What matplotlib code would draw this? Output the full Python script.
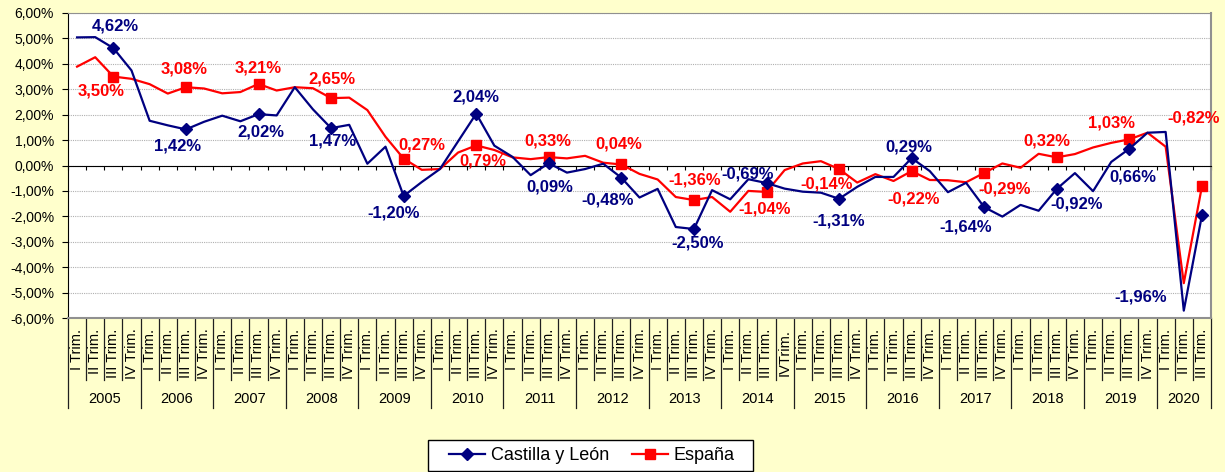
import matplotlib
matplotlib.use("Agg")
from matplotlib import pyplot as plt
from matplotlib import transforms
from matplotlib.patches import Rectangle
from matplotlib.ticker import FuncFormatter, MultipleLocator

plt.rcParams['font.family'] = ['Liberation Sans', 'DejaVu Sans']

years = [str(y) for y in range(2005, 2021)]
quarters = ["I Trim.", "II Trim.", "III Trim.", "IV Trim."]

# tasa de variacion interanual (%) por trimestre, 2005 I - 2020 III
castilla = [5.04, 5.05, 4.62, 3.74, 1.76, 1.58, 1.42, 1.72, 1.96, 1.74, 2.02, 1.97,
            3.08, 2.21, 1.47, 1.60, 0.07, 0.74, -1.20, -0.65, -0.14, 0.95, 2.04, 0.78,
            0.34, -0.38, 0.09, -0.28, -0.14, 0.07, -0.48, -1.26, -0.92, -2.42, -2.50, -0.97,
            -1.33, -0.54, -0.69, -0.91, -1.03, -1.07, -1.31, -0.84, -0.45, -0.45, 0.29, -0.22,
            -1.05, -0.68, -1.64, -2.01, -1.55, -1.78, -0.92, -0.30, -1.01, 0.14, 0.66, 1.29,
            1.32, -5.71, -1.96]
espana = [3.89, 4.26, 3.50, 3.41, 3.20, 2.83, 3.08, 3.03, 2.84, 2.89, 3.21, 2.95,
          3.08, 3.04, 2.65, 2.67, 2.18, 1.13, 0.27, -0.17, -0.14, 0.51, 0.79, 0.61,
          0.32, 0.25, 0.33, 0.28, 0.38, 0.11, 0.04, -0.33, -0.55, -1.24, -1.36, -1.24,
          -1.82, -1.00, -1.04, -0.18, 0.08, 0.17, -0.14, -0.67, -0.34, -0.61, -0.22, -0.57,
          -0.58, -0.66, -0.29, 0.08, -0.09, 0.46, 0.32, 0.45, 0.71, 0.89, 1.03, 1.29,
          0.74, -4.63, -0.82]

# etiquetas: desplazamiento (px) respecto al marcador del III trimestre
off_cyl = [(2, 22), (-8, -17), (2, -18), (1, -13), (-10, -17), (0, 17), (1, -24), (-14, -22),
           (4, -14), (-19, 9), (0, -22), (-3, 11), (-19, -20), (20, -15), (4, -28), (-61, -82)]
off_esp = [(-12, -14), (-2, 18), (0, 16), (1, 19), (18, 14), (7, -16), (-1, 16), (-3, 20),
           (1, 20), (-2, -17), (-12, -15), (2, -28), (20, -16), (-10, 16), (-18, 16), (-8, 68)]

navy = "#000080"
red = "#FF0000"
n = len(castilla)
x = [i + 0.5 for i in range(n)]
mk = list(range(2, n, 4))

fig = plt.figure(figsize=(12.25, 4.72), dpi=100, facecolor="#FFFFCC")
ax = fig.add_axes([68 / 1225, 1 - 318 / 472, (1211 - 68) / 1225, (318 - 13) / 472])
ax.set_facecolor("white")

ax.plot(x, castilla, color=navy, lw=1.6, marker="D", ms=6, markevery=mk,
        label="Castilla y León", zorder=4)
ax.plot(x, espana, color=red, lw=1.6, marker="s", ms=7, markevery=mk,
        label="España", zorder=3)

def pct(v):
    return "{:.2f}%".format(v).replace(".", ",")

for k, i in enumerate(mk):
    ax.annotate(pct(castilla[i]), (x[i], castilla[i]), xytext=off_cyl[k],
                textcoords="offset pixels", ha="center", va="center",
                color=navy, fontsize=12, fontweight="bold", zorder=6)
    ax.annotate(pct(espana[i]), (x[i], espana[i]), xytext=off_esp[k],
                textcoords="offset pixels", ha="center", va="center",
                color=red, fontsize=12, fontweight="bold", zorder=6)

ax.set_xlim(0, n)
ax.set_ylim(-6, 6)
ax.yaxis.set_major_locator(MultipleLocator(1))
ax.yaxis.set_major_formatter(FuncFormatter(lambda v, p: pct(v)))
ax.grid(axis="y", color="#B0B0B0", ls=(0, (1, 1)), lw=0.8)
ax.set_axisbelow(True)
ax.tick_params(axis="y", direction="out", length=4, labelsize=10, pad=6)

ax.spines["bottom"].set_position(("data", 0))
ax.spines["bottom"].set_color("black")
ax.spines["left"].set_color("black")
ax.spines["top"].set_color("#909090")
ax.spines["right"].set_color("#909090")
ax.spines["right"].set_linewidth(1.5)
ax.set_xticks(range(n + 1))
ax.tick_params(axis="x", direction="out", length=3, labelbottom=False)
ax.axhline(-6, color="#909090", lw=1.5, clip_on=False, zorder=5)

# eje de categorias bajo el grafico
tr = transforms.blended_transform_factory(ax.transData, ax.transAxes)
for i in range(n):
    lab = quarters[i % 4]
    if years[i // 4] == "2014" and i % 4 == 3:
        lab = "IVTrim."
    ax.text(i + 0.5, -0.035, lab, transform=tr, rotation=90, ha="center", va="top",
            fontsize=10.5)
for b in range(n + 1):
    y1 = -0.295 if b % 4 == 0 or b == n else -0.203
    ax.plot([b, b], [0, y1], transform=tr, color="#202020", lw=0.9, clip_on=False)
for j, yr in enumerate(years):
    end = min(4 * j + 4, n)
    ax.text((4 * j + end) / 2, -0.266, yr, transform=tr, ha="center", va="center",
            fontsize=10.5)

# leyenda con marco propio (mas ancho que el texto)
fig.patches.append(Rectangle((428 / 1225, 1 - 471 / 472), 325 / 1225, 31 / 472,
                             transform=fig.transFigure, facecolor="white",
                             edgecolor="black", lw=1.0, zorder=1))
leg = fig.legend(loc="center", bbox_to_anchor=(592 / 1225, 1 - 455.5 / 472), ncol=2,
                 frameon=False, fontsize=13, handlelength=2.0, handletextpad=0.3,
                 columnspacing=1.3, borderpad=0.25, borderaxespad=0)
leg.set_zorder(2)

fig.savefig("out.png", dpi=100, facecolor=fig.get_facecolor())
